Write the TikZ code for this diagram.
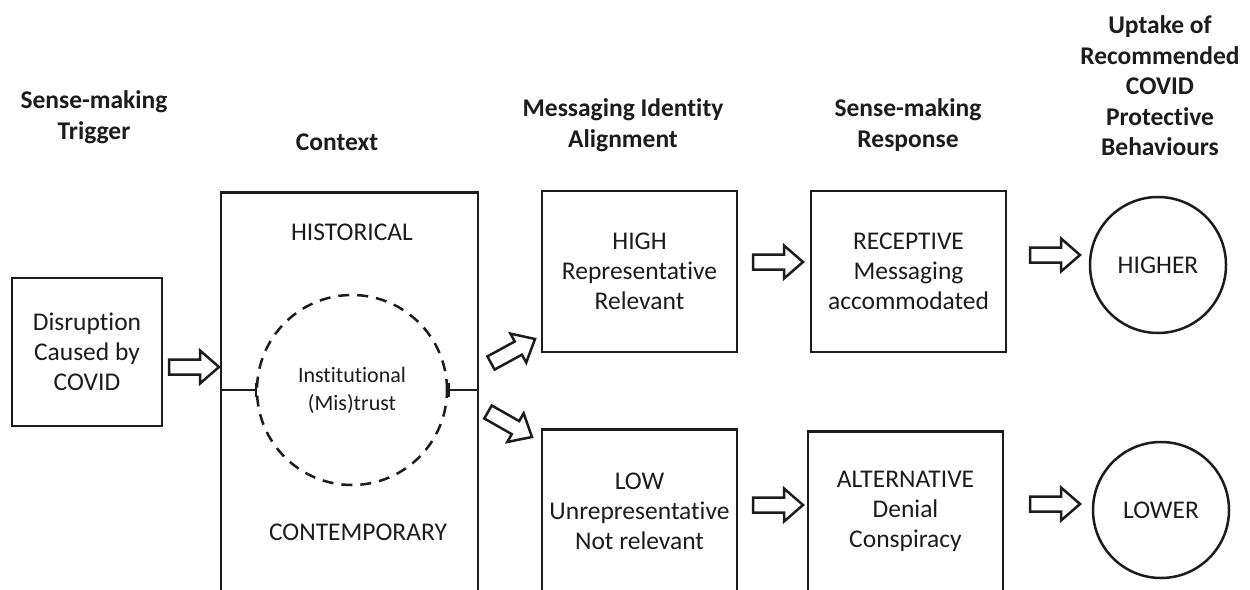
\documentclass[tikz,border=0pt]{standalone}
\usepackage{fontspec}
\setmainfont{Carlito}[Ligatures={NoCommon}]
\usetikzlibrary{calc}
\definecolor{ink}{HTML}{1C1C1C}
\newcommand\bkarrow[3]{%
  \coordinate (#1-t) at (#2);
  \coordinate (#1-e) at (#3);
  \coordinate (#1-h) at ($(#1-e)!19pt!(#1-t)$);
  \draw[barrowstyle]
    ($(#1-t)!7.5pt!90:(#1-e)$) -- ($(#1-h)!7.5pt!90:(#1-e)$) --
    ($(#1-h)!16.5pt!90:(#1-e)$) -- (#1-e) --
    ($(#1-h)!16.5pt!-90:(#1-e)$) -- ($(#1-h)!7.5pt!-90:(#1-e)$) --
    ($(#1-t)!7.5pt!-90:(#1-e)$) -- cycle;}
\tikzset{
  body/.style={font=\fontsize{25.5}{30}\selectfont, text=ink, align=center},
  head/.style={font=\bfseries\fontsize{25.5}{30.5}\selectfont, text=ink, align=center},
  box/.style={draw=ink, line width=2.6pt, rectangle, body, inner sep=0pt},
  endcircle/.style={draw=ink, line width=2.5pt, circle, body, inner sep=0pt, minimum size=136pt},
  mistrust/.style={draw=ink, line width=2.5pt, circle, dash pattern=on 11pt off 8pt,
    minimum size=190pt, inner sep=0pt, align=center, text=ink,
    font=\fontsize{22}{28}\selectfont},
  barrowstyle/.style={draw=ink, line width=2.5pt, line join=miter, fill=white},
  link/.style={draw=ink, line width=2.5pt}
}
\begin{document}
\begin{tikzpicture}[x=1pt,y=1pt]
\path[use as bounding box, clip] (0,0) rectangle (1250,-589);
\fill[white] (0,0) rectangle (1250,-589);

% headings
\node[head] (h1) at (94,-117) {Sense-making\\Trigger};
\node[head] (h2) at (337,-142) {Context};
\node[head] (h3) at (623,-125) {Messaging Identity\\Alignment};
\node[head] (h4) at (908,-125) {Sense-making\\Response};
\node[head] (h5) at (1160,-86) {Uptake of\\Recommended\\COVID\\Protective\\Behaviours};

% trigger
\node[box, minimum width=150pt, minimum height=148pt] (trig) at (87,-352) {Disruption\\Caused by\\COVID};

% context
\node[box, minimum width=257pt, minimum height=460pt, anchor=north] (ctx) at (349.5,-191) {};
\node[body] (hist) at (352,-232) {HISTORICAL};
\node[body] (cont) at (358,-532.5) {CONTEMPORARY};
\node[mistrust] (mis) at (352,-390) {Institutional\\(Mis)trust};
\draw[link] (mis.west) -- (mis.west -| ctx.west);
\draw[link] ($(mis.west)+(0,7)$) -- ($(mis.west)+(0,-7)$);
\draw[link] (mis.east) -- (mis.east -| ctx.east);
\draw[link] ($(mis.east)+(0,7)$) -- ($(mis.east)+(0,-7)$);

% alignment
\node[box, minimum width=195pt, minimum height=161pt] (high) at (639.5,-271.5) {HIGH\\Representative\\Relevant};
\node[box, minimum width=195pt, minimum height=250pt, anchor=north] (low) at (639.5,-428) {};
\node[body] (lowtxt) at (639.5,-511) {LOW\\Unrepresentative\\Not relevant};

% response
\node[box, minimum width=195pt, minimum height=161pt] (rec) at (908.5,-271.5) {RECEPTIVE\\Messaging\\accommodated};
\node[box, minimum width=195pt, minimum height=250pt, anchor=north] (alt) at (905.5,-430) {};
\node[body] (alttxt) at (905.5,-511) {ALTERNATIVE\\Denial\\Conspiracy};

% outcomes
\node[endcircle] (higher) at (1158,-265) {HIGHER};
\node[endcircle] (lower) at (1161,-510) {LOWER};

% block arrows
\bkarrow{a1}{169,-367}{219,-367}
\bkarrow{a2}{491,-363}{535,-339}
\bkarrow{a3}{488,-412}{532,-437}
\bkarrow{a4}{753,-262}{803,-262}
\bkarrow{a5}{753,-505}{803,-505}
\bkarrow{a6}{1030,-255}{1080,-255}
\bkarrow{a7}{1030,-504}{1080,-504}
\end{tikzpicture}
\end{document}
